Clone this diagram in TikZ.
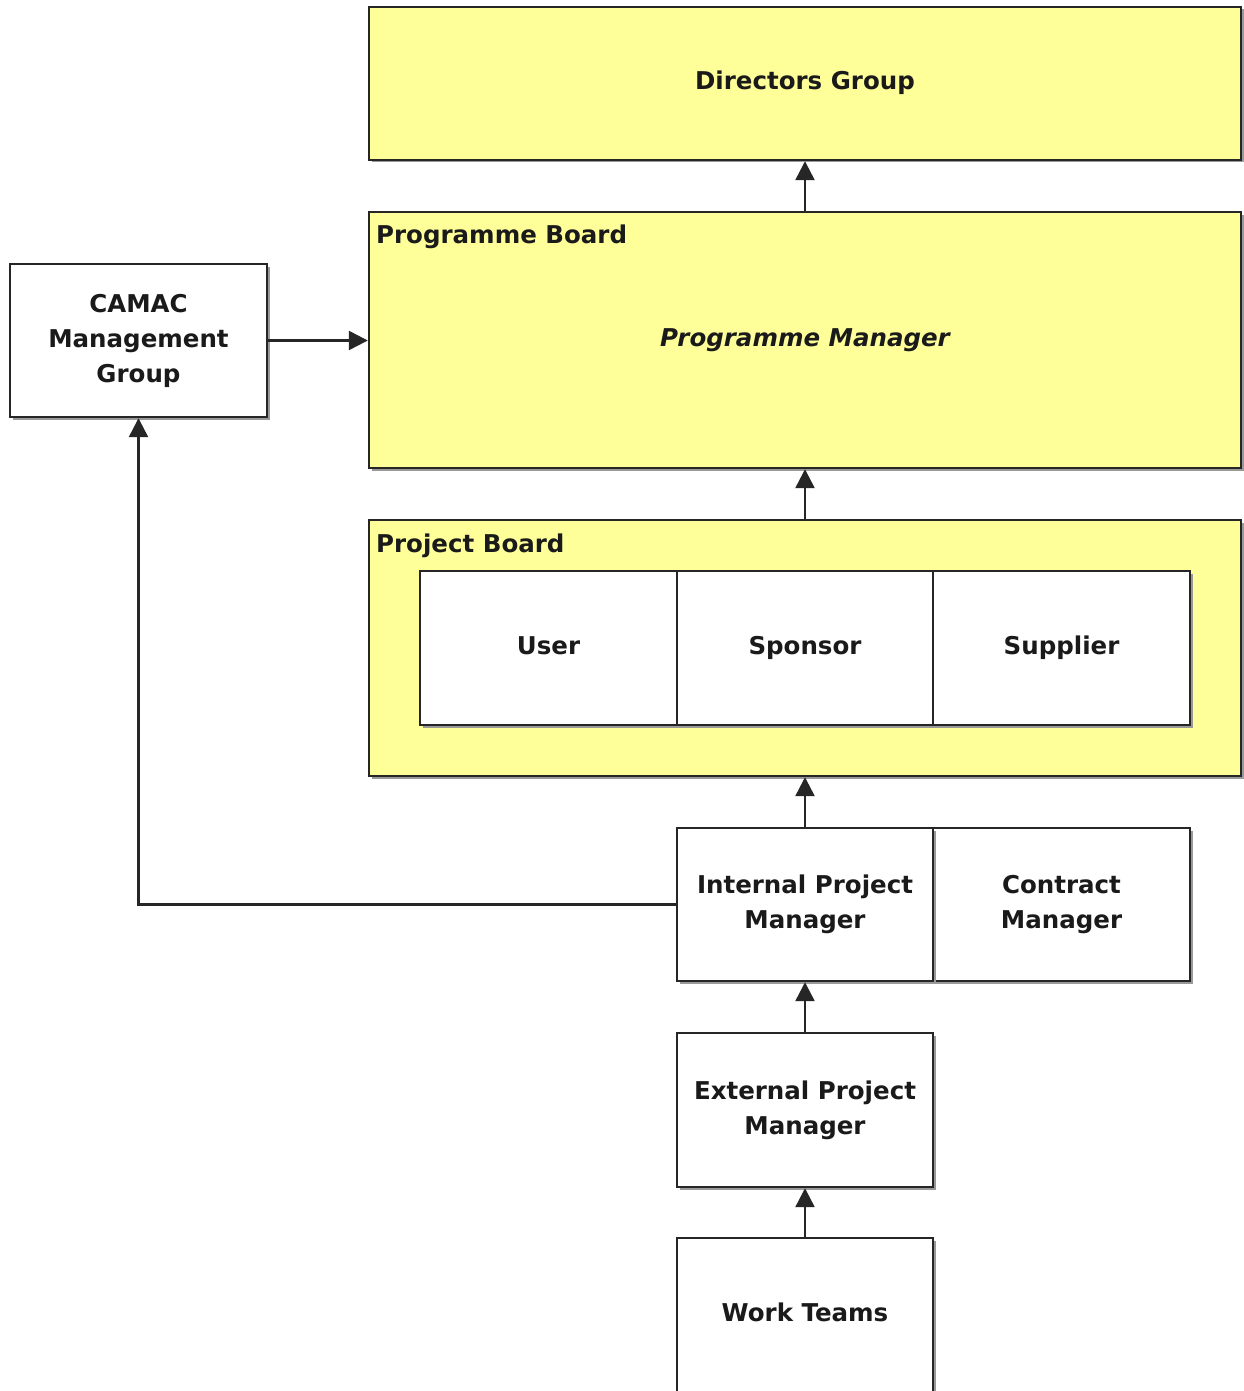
\documentclass[tikz,border=0pt]{standalone}
\usepackage{fontspec}
\setmainfont{DejaVu Sans}
\usetikzlibrary{arrows.meta,shadows}
\definecolor{boxyellow}{HTML}{FFFF99}
\definecolor{edge}{HTML}{262626}
\definecolor{txt}{HTML}{1A1A1A}
\tikzset{
  box/.style={draw=edge, line width=2.4pt, rectangle, inner sep=0pt, align=center, text=txt,
    font=\fontsize{24.5}{35}\selectfont\bfseries,
    drop shadow={shadow xshift=2.5pt, shadow yshift=-2.5pt, fill=black!40, opacity=1}},
  wbox/.style={box, fill=white},
  ybox/.style={box, fill=boxyellow},
  one/.style={text height=18pt, text depth=5pt},
  lbl/.style={anchor=base west, inner sep=0pt, text=txt, font=\fontsize{24.5}{35}\selectfont\bfseries},
  conn/.style={draw=edge, line width=2.4pt, -{Triangle[length=19pt,width=19pt]}}
}
\begin{document}
\begin{tikzpicture}[x=1pt,y=-1pt]
\useasboundingbox (0,0) rectangle (1243,1391);
\fill[white] (0,0) rectangle (1243,1391);
\node[ybox, one, minimum width=872pt, minimum height=153pt] (dir) at (805,83.5) {Directors Group};
\node[ybox, one, minimum width=872pt, minimum height=256pt, font=\fontsize{24.5}{35}\selectfont\bfseries\itshape] (prog) at (805,340) {Programme Manager};
\node[lbl] (progl) at (376,243) {Programme Board};
\node[ybox, minimum width=872pt, minimum height=256pt] (proj) at (805,648) {};
\node[lbl] (projl) at (376,552) {Project Board};
\node[wbox, one, minimum width=257pt, minimum height=154pt] (user) at (548.5,648) {User};
\node[wbox, one, minimum width=256pt, minimum height=154pt] (spon) at (805,648) {Sponsor};
\node[wbox, one, minimum width=257pt, minimum height=154pt] (supp) at (1061.5,648) {Supplier};
\node[wbox, minimum width=257pt, minimum height=153pt] (cm) at (1061.5,904.5) {Contract\\Manager};
\node[wbox, minimum width=256pt, minimum height=153pt] (ipm) at (805,904.5) {Internal Project\\Manager};
\node[wbox, minimum width=256pt, minimum height=154pt] (epm) at (805,1110) {External Project\\Manager};
\node[wbox, minimum width=256pt, minimum height=170pt] (work) at (805,1323) {};
\node[one, inner sep=0pt, text=txt, font=\fontsize{24.5}{35}\selectfont\bfseries] (workt) at (805,1314.5) {Work Teams};
\node[wbox, minimum width=257pt, minimum height=153pt] (camac) at (138.5,340.5) {CAMAC\\Management\\Group};
\draw[conn] (prog.north) -- (dir.south);
\draw[conn] (proj.north) -- (prog.south);
\draw[conn] (ipm.north) -- (proj.south);
\draw[conn] (epm.north) -- (ipm.south);
\draw[conn] (work.north) -- (epm.south);
\draw[conn] (camac.east) -- (prog.west |- camac.east);
\draw[conn] (ipm.west) -| (camac.south);
\end{tikzpicture}
\end{document}
